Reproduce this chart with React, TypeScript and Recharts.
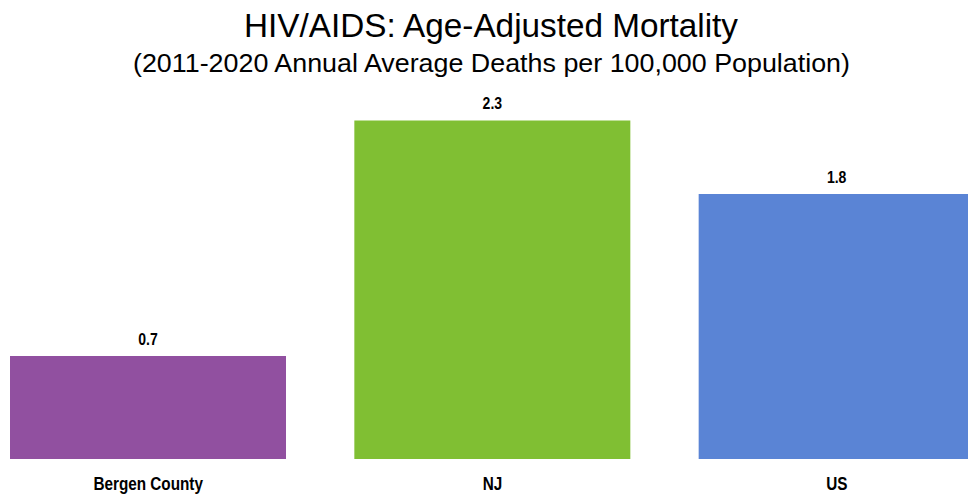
import React from "react";
import { BarChart, Bar, XAxis, YAxis, Cell, LabelList } from "recharts";

// categories and annual averages (deaths per 100,000)
const categories = ["Bergen County", "NJ", "US"];
const mortality = [0.7, 2.3, 1.8];
const barColors = ["#9150A0", "#80BF33", "#5A84D5"];

const title = "HIV/AIDS: Age-Adjusted Mortality";
const subtitle = "(2011-2020 Annual Average Deaths per 100,000 Population)";

const data = categories.map((name, i) => ({ name, value: mortality[i] }));

const font = "'Liberation Sans', Arial, sans-serif";
const squeeze = 0.85; // no narrow font installed, so compress Liberation Sans bold

const CategoryTick = (props: any) => {
  const { x, y, payload } = props;
  return (
    <g transform={`translate(${x},${y})`}>
      <text
        transform={`scale(${squeeze},1)`}
        y={12}
        textAnchor="middle"
        fontFamily={font}
        fontSize={18}
        fontWeight="bold"
        fill="#000"
      >
        {payload.value}
      </text>
    </g>
  );
};

const ValueLabel = (props: any) => {
  const { x, y, width, value } = props;
  const cx = Number(x) + Number(width) / 2;
  return (
    <g transform={`translate(${cx},${Number(y) - 11})`}>
      <text
        transform={`scale(${squeeze},1)`}
        textAnchor="middle"
        fontFamily={font}
        fontSize={16.5}
        fontWeight="bold"
        fill="#000"
      >
        {Number(value).toFixed(1)}
      </text>
    </g>
  );
};

export default function App() {
  return (
    <div
      style={{
        position: "absolute",
        left: 0,
        top: 0,
        width: 968,
        height: 495,
        overflow: "hidden",
        background: "#fff",
      }}
    >
      {/* titre et sous-titre */}
      <svg
        width={968}
        height={90}
        style={{ position: "absolute", left: 0, top: 0 }}
        fontFamily={font}
      >
        <text
          x={491}
          y={37}
          fontSize={34}
          textAnchor="middle"
          fill="#000"
          textLength={494}
          lengthAdjust="spacingAndGlyphs"
        >
          {title}
        </text>
        <text
          x={491.5}
          y={72}
          fontSize={26}
          textAnchor="middle"
          fill="#000"
          textLength={717}
          lengthAdjust="spacingAndGlyphs"
        >
          {subtitle}
        </text>
      </svg>

      <div style={{ position: "absolute", left: -24, top: 0 }}>
        <BarChart
          width={1033}
          height={495}
          data={data}
          margin={{ top: 91, right: 0, bottom: 0, left: 0 }}
        >
          <XAxis
            dataKey="name"
            height={36}
            axisLine={false}
            tickLine={false}
            tickMargin={13}
            interval={0}
            tick={<CategoryTick />}
          />
          <YAxis hide domain={[0, 2.5]} />
          <Bar dataKey="value" barSize={276} isAnimationActive={false}>
            {data.map((d, i) => (
              <Cell key={d.name} fill={barColors[i]} />
            ))}
            <LabelList dataKey="value" content={<ValueLabel />} />
          </Bar>
        </BarChart>
      </div>
    </div>
  );
}
